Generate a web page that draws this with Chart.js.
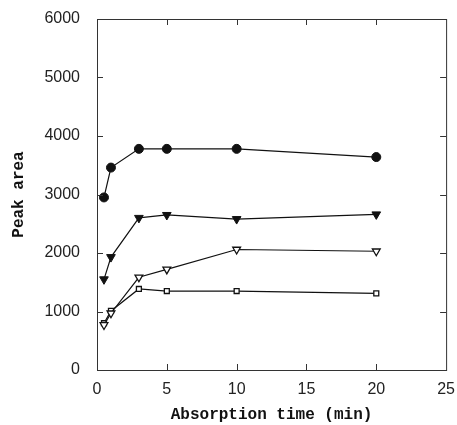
<!DOCTYPE html>
<html>
<head>
<meta charset="utf-8">
<script src="https://cdn.jsdelivr.net/npm/chart.js@4"></script>
<style>
  html, body { margin: 0; padding: 0; background: #fff; }
  #wrap { width: 457px; height: 425px; }
</style>
</head>
<body>
<div id="wrap"><canvas id="grafico" width="457" height="425"></canvas></div>
<script>
// tempos de absorção (min)
const tempos = [0.5, 1, 3, 5, 10, 20];

// áreas de pico
const serieCirculo = [2950, 3460, 3780, 3780, 3780, 3640];
const serieTrianguloCheio = [1550, 1930, 2600, 2650, 2580, 2660];
const serieTrianguloVazio = [770, 970, 1585, 1720, 2060, 2030];
const serieQuadrado = [800, 1010, 1385, 1350, 1350, 1310];

const ticksX = [0, 5, 10, 15, 20, 25];
const ticksY = [0, 1000, 2000, 3000, 4000, 5000, 6000];

function pontos(valores) {
    return tempos.map((t, i) => ({ x: t, y: valores[i] }));
}

// desenha a moldura e os traços virados para dentro
const molduraPlugin = {
    id: 'moldura',
    afterDatasetsDraw(chart) {
        const ctx = chart.ctx;
        const a = chart.chartArea;
        const sx = chart.scales.x;
        const sy = chart.scales.y;
        ctx.save();
        ctx.strokeStyle = '#333';
        ctx.lineWidth = 1;
        ctx.strokeRect(a.left + 0.5, a.top + 0.5, a.right - a.left, a.bottom - a.top);
        ctx.beginPath();
        ticksX.slice(1, -1).forEach(v => {
            const px = Math.round(sx.getPixelForValue(v)) + 0.5;
            ctx.moveTo(px, a.bottom);
            ctx.lineTo(px, a.bottom - 6);
            ctx.moveTo(px, a.top);
            ctx.lineTo(px, a.top + 6);
        });
        ticksY.slice(1, -1).forEach(v => {
            const py = Math.round(sy.getPixelForValue(v)) + 0.5;
            ctx.moveTo(a.left, py);
            ctx.lineTo(a.left + 6, py);
            ctx.moveTo(a.right, py);
            ctx.lineTo(a.right - 6, py);
        });
        ctx.stroke();
        ctx.restore();
    }
};

const ctxGrafico = document.getElementById('grafico').getContext('2d');
new Chart(ctxGrafico, {
    type: 'scatter',
    data: {
        datasets: [
            {
                label: 'circulo',
                data: pontos(serieCirculo),
                showLine: true,
                borderColor: '#111',
                borderWidth: 1.2,
                backgroundColor: '#111',
                pointStyle: 'circle',
                pointRadius: 4.5,
                pointBorderWidth: 1
            },
            {
                label: 'triangulo cheio',
                data: pontos(serieTrianguloCheio),
                showLine: true,
                borderColor: '#111',
                borderWidth: 1.2,
                backgroundColor: '#111',
                pointStyle: 'triangle',
                rotation: 180,
                pointRadius: 5,
                pointBorderWidth: 1
            },
            {
                label: 'triangulo vazio',
                data: pontos(serieTrianguloVazio),
                showLine: true,
                borderColor: '#111',
                borderWidth: 1.2,
                backgroundColor: '#fff',
                pointStyle: 'triangle',
                rotation: 180,
                pointRadius: 4.5,
                pointBorderWidth: 1.3
            },
            {
                label: 'quadrado',
                data: pontos(serieQuadrado),
                showLine: true,
                borderColor: '#111',
                borderWidth: 1.2,
                backgroundColor: '#fff',
                pointStyle: 'rect',
                pointRadius: 3.5,
                pointBorderWidth: 1.3
            }
        ]
    },
    options: {
        responsive: false,
        animation: false,
        layout: { padding: { left: 0, top: 19, right: 5, bottom: 0 } },
        plugins: {
            legend: { display: false },
            tooltip: { enabled: false }
        },
        scales: {
            x: {
                type: 'linear',
                min: 0,
                max: 25,
                afterBuildTicks: s => { s.ticks = ticksX.map(v => ({ value: v })); },
                afterFit: s => { s.height = 55; },
                grid: { display: false },
                border: { display: false },
                ticks: {
                    color: '#222',
                    font: { family: 'Liberation Sans', size: 16 },
                    padding: 2,
                    maxRotation: 0,
                    callback: v => String(v)
                },
                title: {
                    display: true,
                    text: 'Absorption time (min)',
                    color: '#111',
                    font: { family: 'Liberation Mono', size: 16, weight: 'bold' },
                    padding: { top: 11, bottom: 0 }
                }
            },
            y: {
                type: 'linear',
                min: 0,
                max: 6000,
                afterBuildTicks: s => { s.ticks = ticksY.map(v => ({ value: v })); },
                afterFit: s => { s.width = 97; },
                grid: { display: false },
                border: { display: false },
                ticks: {
                    color: '#222',
                    font: { family: 'Liberation Sans', size: 16 },
                    padding: 9,
                    callback: v => String(v)
                },
                title: {
                    display: true,
                    text: 'Peak area',
                    color: '#111',
                    font: { family: 'Liberation Mono', size: 16, weight: 'bold' },
                    padding: { top: 9, bottom: 0 }
                }
            }
        }
    },
    plugins: [molduraPlugin]
});
</script>
</body>
</html>
